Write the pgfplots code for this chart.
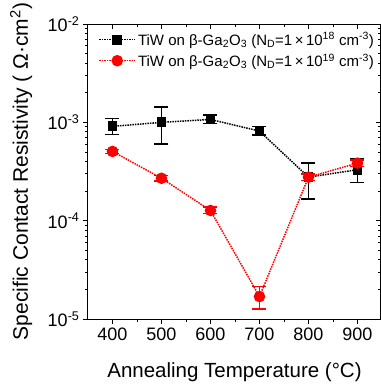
\documentclass[border=0pt]{standalone}
\usepackage{pgfplots}
\pgfplotsset{compat=1.18}
\usepackage{fontspec}
\setmainfont{Liberation Sans}
\begin{document}
\pgfplotstableread{
x y ep em
400 9.1e-4 1.8e-4 1.6e-4
500 1.0e-3 4.3e-4 3.95e-4
600 1.07e-3 1.2e-4 1.0e-4
700 8.15e-4 9.5e-5 7.5e-5
800 2.77e-4 1.08e-4 1.11e-4
900 3.3e-4 9.7e-5 8.6e-5
}\blackdata
\pgfplotstableread{
x y ep em
400 5.06e-4 2.5e-5 2.5e-5
500 2.7e-4 1.8e-5 1.6e-5
600 1.27e-4 1.0e-5 9e-6
700 1.69e-5 4.5e-6 4.2e-6
800 2.77e-4 2e-5 2e-5
900 3.85e-4 3e-5 3e-5
}\reddata
\begin{tikzpicture}
\begin{axis}[name=ax,
  scale only axis, width=293pt, height=295pt,
  xmin=350, xmax=948, ymode=log, ymin=1e-5, ymax=1e-2,
  xtick={400,500,...,900}, minor x tick num=1,
  ytick={1e-5,1e-4,1e-3,1e-2},
  major tick length=5pt, minor tick length=3pt,
  axis line style={line width=1pt},
  every tick/.style={line width=0.8pt, black},
  xtick pos=bottom, ytick pos=left, tick align=outside,
  /pgf/number format/assume math mode=true,
  /pgf/number format/set thousands separator={},
  tick label style={font=\fontsize{18}{21}\selectfont},
  yticklabels={10\textsuperscript{-5},10\textsuperscript{-4},10\textsuperscript{-3},10\textsuperscript{-2}},
  xlabel={Annealing Temperature (°C)},
  ylabel={Specific Contact Resistivity ( Ω·cm\textsuperscript{2})},
  every axis x label/.style={at={(axis description cs:0.5,-0.18)}, anchor=center, font=\fontsize{20.5}{24}\selectfont},
  every axis y label/.style={at={(axis description cs:-0.228,0.5)}, rotate=90, anchor=center, font=\fontsize{21}{24}\selectfont},
  legend style={at={(axis description cs:0.025,0.985)}, anchor=north west, draw=none, fill=none,
    font=\fontsize{15}{18}\selectfont, row sep=3pt,
    /tikz/every even column/.append style={column sep=2pt}},
  legend cell align=left,
  legend image code/.code={
    \draw[mark repeat=2,mark phase=2,#1] plot coordinates {(0pt,0pt) (18pt,0pt) (36pt,0pt)};
  },
]
\addplot[black, densely dotted, line width=1.5pt, mark=square*, mark size=4.2pt,
  mark options={solid},
  error bars/.cd, y dir=both, y explicit,
  error bar style={solid, line width=1.6pt},
  error mark options={rotate=90, mark size=7pt, line width=1.6pt}]
  table[x=x, y=y, y error plus=ep, y error minus=em] {\blackdata};
\addlegendentry{TiW on β-Ga\textsubscript{2}O\textsubscript{3} (N\textsubscript{D}=1\,×\,10\textsuperscript{18} cm\textsuperscript{-3})}
\addplot[red, densely dotted, line width=1.5pt, mark=*, mark size=5pt,
  mark options={solid},
  error bars/.cd, y dir=both, y explicit,
  error bar style={solid, line width=1.6pt},
  error mark options={rotate=90, mark size=7pt, line width=1.6pt}]
  table[x=x, y=y, y error plus=ep, y error minus=em] {\reddata};
\addlegendentry{TiW on β-Ga\textsubscript{2}O\textsubscript{3} (N\textsubscript{D}=1\,×\,10\textsuperscript{19} cm\textsuperscript{-3})}
\end{axis}
\begin{axis}[
  scale only axis, width=293pt, height=295pt,
  xmin=350, xmax=948, ymode=log, ymin=1e-5, ymax=1e-2,
  xtick={400,500,...,900}, minor x tick num=1,
  ytick={1e-5,1e-4,1e-3,1e-2},
  major tick length=5pt, minor tick length=3pt,
  axis line style={line width=1pt},
  every tick/.style={line width=0.8pt, black},
  xtick pos=top, ytick pos=right, tick align=inside,
  xticklabels={}, yticklabels={}]
\end{axis}
\pgfresetboundingbox
\useasboundingbox ([xshift=-88pt,yshift=-68pt]ax.south west) rectangle ([yshift=24pt]ax.north east);
\end{tikzpicture}
\end{document}
